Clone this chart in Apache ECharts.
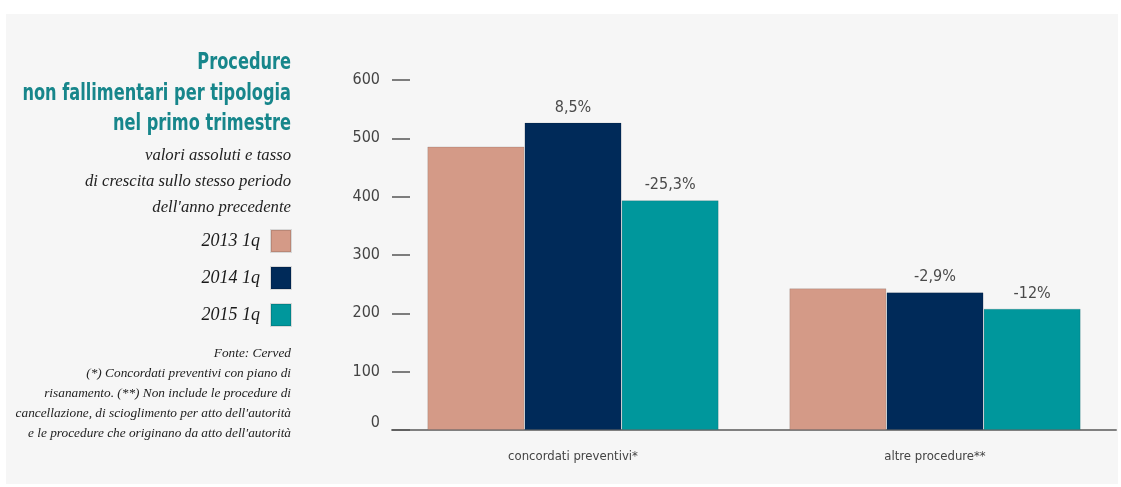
<!DOCTYPE html>
<html>
<head>
<meta charset="utf-8">
<style>
  html, body { margin: 0; padding: 0; background: #ffffff; }
  #chart { width: 1121px; height: 487px; }
</style>
<script src="https://cdn.jsdelivr.net/npm/echarts@6/dist/echarts.min.js"></script>
</head>
<body>
<div id="chart"></div>
<script>
// Procedure non fallimentari, primo trimestre
const categories = ['concordati preventivi*', 'altre procedure**'];
const seriesNames = ['2013 1q', '2014 1q', '2015 1q'];
const values2013 = [486, 243];
const values2014 = [527, 236];
const values2015 = [394, 208];
const growth2014 = ['8,5%', '-2,9%'];
const growth2015 = ['-25,3%', '-12%'];
const yTicks = [0, 100, 200, 300, 400, 500, 600];

const colors = ['#d49a87', '#002a59', '#00979c'];
const sansNarrow = "'Liberation Sans Narrow', 'DejaVu Sans Condensed', 'Roboto', sans-serif";
const serif = "'Liberation Serif', 'DejaVu Serif', serif";

const chart = echarts.init(document.getElementById('chart'));

function barLabel(texts) {
  return {
    show: !!texts,
    position: 'top',
    distance: 7,
    color: '#4a4a4a',
    fontFamily: sansNarrow,
    fontSize: 16,
    formatter: p => texts ? texts[p.dataIndex] : ''
  };
}

const allValues = [values2013, values2014, values2015];
const allLabels = [null, growth2014, growth2015];

chart.setOption({
  animation: false,
  backgroundColor: '#ffffff',
  color: colors,
  graphic: [
    { type: 'rect', z: -10, shape: { x: 6, y: 14, width: 1112, height: 470 }, style: { fill: '#f6f6f6' } },
    {
      type: 'text', x: 291, y: 48, scaleX: 0.8,
      style: {
        text: 'Procedure\nnon fallimentari per tipologia\nnel primo trimestre',
        align: 'right', fill: '#17868b', fontFamily: sansNarrow,
        fontWeight: 'bold', fontSize: 22.5, lineHeight: 30.5
      }
    },
    {
      type: 'text', x: 291, y: 143,
      style: {
        text: "valori assoluti e tasso\ndi crescita sullo stesso periodo\ndell'anno precedente",
        align: 'right', fill: '#222222', fontFamily: serif,
        fontStyle: 'italic', fontSize: 16.7, lineHeight: 26
      }
    },
    {
      type: 'text', x: 291, y: 343,
      style: {
        text: "Fonte: Cerved\n(*) Concordati preventivi con piano di\nrisanamento. (**) Non include le procedure di\ncancellazione, di scioglimento per atto dell'autorità\ne le procedure che originano da atto dell'autorità",
        align: 'right', fill: '#222222', fontFamily: serif,
        fontStyle: 'italic', fontSize: 13.3, lineHeight: 20.2
      }
    }
  ],
  legend: {
    orient: 'vertical',
    right: 829,
    top: 229,
    padding: 0,
    align: 'right',
    itemWidth: 20,
    itemHeight: 22,
    itemGap: 13,
    icon: 'rect',
    data: seriesNames,
    textStyle: { fontFamily: serif, fontStyle: 'italic', fontSize: 18, lineHeight: 22, color: '#1a1a1a', padding: [0, 6, 0, 0] }
  },
  grid: { left: 392, right: 5, top: 80, bottom: 57, containLabel: false },
  xAxis: {
    type: 'category',
    data: categories,
    axisLine: { show: true, lineStyle: { color: '#808080', width: 2 } },
    axisTick: { show: false },
    axisLabel: { color: '#444444', fontFamily: sansNarrow, fontSize: 13, margin: 20 }
  },
  yAxis: {
    type: 'value',
    min: yTicks[0],
    max: yTicks[yTicks.length - 1],
    interval: 100,
    axisLine: { show: false },
    splitLine: { show: false },
    axisTick: { show: true, inside: true, length: 18, lineStyle: { color: '#555555', width: 1.5 } },
    axisLabel: {
      color: '#444444', fontFamily: sansNarrow, fontSize: 16, margin: 12,
      formatter: v => (v === 0 ? '{zero|0}' : String(v)),
      rich: { zero: { fontFamily: sansNarrow, fontSize: 16, color: '#444444', padding: [0, 0, 14, 0] } }
    }
  },
  series: seriesNames.map((name, i) => ({
    name: name,
    type: 'bar',
    data: allValues[i],
    barGap: '0%',
    barCategoryGap: '19.5%',
    itemStyle: { color: colors[i], borderColor: 'rgba(0,0,0,0.12)', borderWidth: 1 },
    label: barLabel(allLabels[i])
  }))
});
</script>
</body>
</html>
